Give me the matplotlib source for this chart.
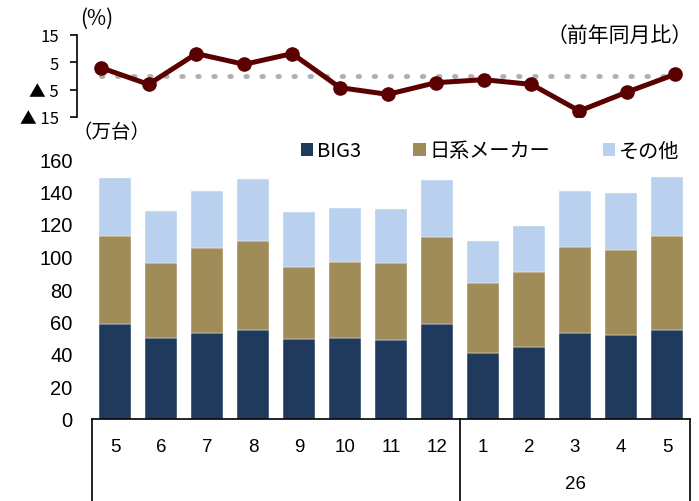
import matplotlib
matplotlib.use("Agg")
import matplotlib.pyplot as plt
from matplotlib.patches import Patch
import matplotlib.transforms as mtransforms

months = ["5", "6", "7", "8", "9", "10", "11", "12", "1", "2", "3", "4", "5"]
year_label = "26"
big3 = [58.3, 49.6, 52.9, 54.6, 49.2, 49.6, 48.4, 58.7, 40.8, 44.3, 52.7, 51.9, 54.6]
japan_total = [112.8, 96.2, 105.2, 109.3, 93.3, 96.6, 96.0, 111.8, 83.5, 90.7, 105.8, 104.2, 112.8]
total = [148.1, 128.2, 140.1, 147.7, 127.6, 129.6, 129.0, 147.1, 109.7, 118.8, 140.1, 138.9, 148.7]
japan = [j - b for j, b in zip(japan_total, big3)]
other = [t - j for t, j in zip(total, japan_total)]
yoy = [3.0, -3.1, 8.1, 4.2, 8.1, -4.3, -6.75, -2.5, -1.4, -3.1, -12.8, -5.9, 0.55]

series_names = ["BIG3", "日系メーカー", "その他"]
colors = ["#1F3A5C", "#A08C58", "#B9D0EE"]
line_color = "#5A0000"

CJK = ["Noto Sans CJK JP", "DejaVu Sans"]
plt.rcParams["font.family"] = CJK

W, H = 699, 502
fig = plt.figure(figsize=(W / 100, H / 100), dpi=100)

# ---- bar axes ----
axb = fig.add_axes([92 / W, (H - 420) / H, 598 / W, 260 / H])
x = list(range(len(months)))
axb.bar(x, big3, width=0.7, color=colors[0], edgecolor="white", linewidth=0.3)
axb.bar(x, japan, width=0.7, bottom=big3, color=colors[1], edgecolor="white", linewidth=0.3)
axb.bar(x, other, width=0.7, bottom=japan_total, color=colors[2], edgecolor="white", linewidth=0.3)
axb.set_xlim(-0.5, len(months) - 0.5)
axb.set_ylim(0, 160)
axb.set_yticks(range(0, 161, 20))
axb.tick_params(axis="y", length=0, labelsize=14.5, pad=14)
for lab in axb.get_yticklabels():
    lab.set_fontfamily(["Liberation Sans", "DejaVu Sans"])
axb.set_xticks([])
for s in ["top", "right", "left"]:
    axb.spines[s].set_visible(False)
axb.spines["bottom"].set_linewidth(1.2)

trans = mtransforms.blended_transform_factory(axb.transData, axb.transAxes)
narrow = ["Liberation Sans Narrow", "Liberation Sans", "DejaVu Sans"]
for xi, m in zip(x, months):
    axb.text(xi, -0.105, m, transform=trans, ha="center", va="center",
             fontsize=13.5, fontfamily=narrow)
axb.text(10, -0.25, year_label, transform=trans, ha="center", va="center",
         fontsize=13.5, fontfamily=narrow)
for xv in [-0.5, 7.5, 12.5]:
    axb.plot([xv, xv], [0, -0.4], transform=trans, color="black", lw=1.2, clip_on=False)

handles = [Patch(facecolor=c, edgecolor="none") for c in colors]
leg = fig.legend(handles, series_names, loc="center", bbox_to_anchor=(490 / W, (H - 152) / H),
                 ncol=3, frameon=False, fontsize=14.5, handlelength=0.6, handleheight=0.6,
                 handletextpad=0.2, columnspacing=2.6)

# ---- line axes ----
axl = fig.add_axes([76.7 / W, (H - 118) / H, (W - 76.7) / W, 82.3 / H])
xl = [i + 0.5 for i in range(len(months))]
axl.plot([xl[0], xl[-1]], [0, 0], color="#B0B0B0", lw=3.5, linestyle=(0, (0.3, 3.0)),
         dash_capstyle="round", zorder=1)
axl.plot(xl, yoy, color=line_color, lw=3.6, marker="o", markersize=9.5, zorder=2)
axl.set_xlim(0, len(months))
axl.set_ylim(-15, 15)
axl.set_yticks([15, 5, -5, -15])
axl.set_yticklabels(["15", "5", "▲ 5", "▲ 15"])
axl.tick_params(axis="y", length=5, width=1.2, labelsize=12, pad=8)
axl.set_xticks([])
for s in ["top", "right", "bottom"]:
    axl.spines[s].set_visible(False)
axl.spines["left"].set_linewidth(1.2)
axl.patch.set_alpha(0)

fig.text(97 / W, 1 - 19 / H, "(%)", ha="center", va="center", fontsize=15)
fig.text(112 / W, 1 - 133 / H, "（万台）", ha="center", va="center", fontsize=14)
fig.text(620 / W, 1 - 36 / H, "（前年同月比）", ha="center", va="center", fontsize=15)

fig.savefig("out.png", dpi=100)
